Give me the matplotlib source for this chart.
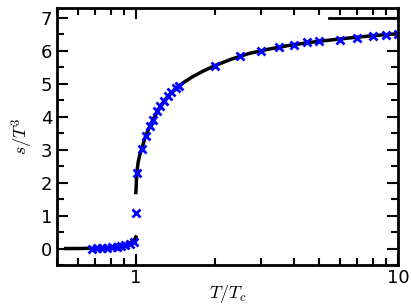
import matplotlib
matplotlib.use("Agg")
import matplotlib.pyplot as plt
from matplotlib.ticker import LogLocator, NullFormatter, FixedLocator, FixedFormatter

plt.rcParams['mathtext.fontset'] = 'cm'

# lattice points (T/Tc, s/T^3)
t_pts = [0.68, 0.71, 0.74, 0.775, 0.81, 0.845, 0.875, 0.91, 0.95, 0.98,
         1.00, 1.01, 1.057, 1.089, 1.13, 1.165, 1.20, 1.24, 1.28, 1.32, 1.365, 1.42, 1.46,
         2.0, 2.5, 3.0, 3.5, 4.0, 4.5, 5.0, 6.0, 7.0, 8.0, 9.0, 10.0]
s_pts = [0.0, 0.01, 0.02, 0.03, 0.04, 0.06, 0.08, 0.10, 0.14, 0.19,
         1.07, 2.30, 3.02, 3.42, 3.71, 3.91, 4.16, 4.34, 4.49, 4.64, 4.76, 4.86, 4.94,
         5.55, 5.83, 6.00, 6.12, 6.18, 6.26, 6.29, 6.34, 6.40, 6.44, 6.48, 6.50]

# model curve, confined phase
t_low = [0.54, 0.60, 0.70, 0.78, 0.85, 0.90, 0.94, 0.97, 0.99, 1.00]
s_low = [0.0, 0.0, 0.01, 0.03, 0.06, 0.10, 0.15, 0.22, 0.29, 0.35]

# model curve, deconfined phase
t_high = [1.000, 1.004, 1.010, 1.02, 1.035, 1.055, 1.08, 1.11, 1.15, 1.20, 1.26,
          1.33, 1.42, 1.52, 1.65, 1.80, 2.00, 2.30, 2.70, 3.20, 4.00, 5.00, 6.50, 8.00, 10.0]
s_high = [1.70, 2.05, 2.35, 2.62, 2.85, 3.05, 3.33, 3.58, 3.84, 4.12, 4.40,
          4.64, 4.86, 5.04, 5.22, 5.38, 5.55, 5.74, 5.92, 6.05, 6.19, 6.29, 6.39, 6.46, 6.52]

# Stefan-Boltzmann limit
sb_t = [5.44, 10.0]
sb_s = [7.0, 7.0]

fig = plt.figure(figsize=(4.11, 3.08), dpi=100)
ax = fig.add_axes([0.1387, 0.1396, 0.8297, 0.8344])

ax.plot(t_low, s_low, color='black', lw=2.5)
ax.plot(t_high, s_high, color='black', lw=2.5)
ax.plot(sb_t, sb_s, color='black', lw=2)
ax.plot(t_pts, s_pts, 'x', color='blue', ms=5.5, mew=2)

ax.set_xscale('log')
ax.set_xlim(0.5, 10)
ax.set_ylim(-0.3, 7.3)

ax.xaxis.set_major_locator(FixedLocator([1, 10]))
ax.xaxis.set_major_formatter(FixedFormatter(['1', '10']))
ax.xaxis.set_minor_locator(LogLocator(base=10, subs=range(2, 10)))
ax.xaxis.set_minor_formatter(NullFormatter())
ax.set_yticks(range(0, 8))
ax.set_yticks([i + 0.5 for i in range(-1, 7)], minor=True)

ax.tick_params(which='both', direction='in', top=True, right=True, labelsize=13, width=1.5)
ax.tick_params(which='major', length=8)
ax.tick_params(which='minor', length=5)
ax.tick_params(axis='x', pad=3)
for sp in ax.spines.values():
    sp.set_linewidth(2)

ax.set_xlabel(r'$T/T_c$', fontsize=13, labelpad=-3)
ax.set_ylabel(r'$s/T^3$', fontsize=13, labelpad=4)

fig.savefig('out.png', dpi=100)
